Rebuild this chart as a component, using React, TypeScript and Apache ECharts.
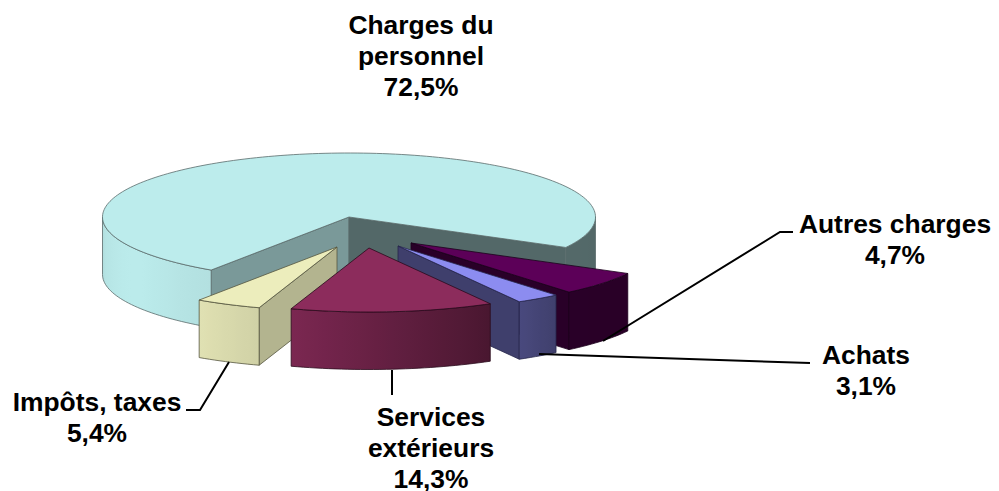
import React, { useEffect, useRef } from "react";
import * as echarts from "echarts";

// Slice names and printed percentages, in clockwise drawing order
const categories = ["Charges du\npersonnel", "Autres charges", "Achats", "Services\nextérieurs", "Impôts, taxes"];
const printedPercent = ["72,5", "4,7", "3,1", "14,3", "5,4"];
// Angular share of each slice as it appears in the picture (the perspective bends them), in %
const shares = [73.45, 6.03, 2.89, 13.3, 4.33];
const topColors = ["#bcecec", "#5c0058", "#8c8cf0", "#8c2c5c", "#ecedbc"];

// Layout
const CX = 349, CY = 217, RX = 246.5, RY = 64, DEPTH = 57.5;
const START_ANGLE = 124;
const EXPLODE = [[0, 0], [62, 26], [49, 29], [20, 31], [-12, 30]];
const PAINT_ORDER = [1, 2, 3, 5, 4];
const FACE_SHADE = [
  { start: 0.65, end: 0.44 },
  { start: 0.45, end: 0.45 },
  { start: 0.45, end: 0.45 },
  { start: 0.8, end: 0.8 },
  { start: 0.76, end: 0.76 },
];
const STROKES = ["#5b6b6b", "#1c001c", "#26264a", "#2a0a1c", "#55553f"];
const SHADE_KEYS = [[0, 0.44], [50, 0.45], [60, 0.52], [108, 0.88], [124, 0.95], [150, 1], [170, 0.97], [180, 0.92]];

function shadeAt(deg: number) {
  for (let i = 1; i < SHADE_KEYS.length; i++) {
    const [a0, s0] = SHADE_KEYS[i - 1];
    const [a1, s1] = SHADE_KEYS[i];
    if (deg <= a1) return s0 + ((s1 - s0) * (deg - a0)) / (a1 - a0);
  }
  return SHADE_KEYS[SHADE_KEYS.length - 1][1];
}
function mult(hex: string, k: number) {
  const n = parseInt(hex.slice(1), 16);
  const c = [(n >> 16) & 255, (n >> 8) & 255, n & 255].map((v) => Math.round(v * k));
  return `rgb(${c[0]},${c[1]},${c[2]})`;
}

const sweeps = shares.map((s) => (s * 360) / shares.reduce((a, b) => a + b, 0));

function renderSlice(params: any, api: any) {
  const i = params.dataIndex;
  const sweep = sweeps[i];
  const from = START_ANGLE + sweeps.slice(0, i).reduce((a, b) => a + b, 0);
  const to = from + sweep;
  const ax = CX + EXPLODE[i][0];
  const ay = CY + EXPLODE[i][1];
  const z2 = PAINT_ORDER[i];
  const pt = (deg: number, dy = 0) => {
    const r = (deg * Math.PI) / 180;
    return [ax + RX * Math.cos(r), ay + RY * Math.sin(r) + dy];
  };
  const arc = (a: number, b: number, dy = 0) => {
    const n = Math.max(2, Math.ceil(Math.abs(b - a) / 1.5));
    const out: number[][] = [];
    for (let k = 0; k <= n; k++) out.push(pt(a + ((b - a) * k) / n, dy));
    return out;
  };
  const base = topColors[i];
  const stroke = STROKES[i];
  const kids: any[] = [];
  const poly = (points: number[][], fill: any, order: number) =>
    kids.push({ type: "polygon", z2: z2 * 10 + order, shape: { points }, style: { fill, stroke, lineWidth: 0.8 } });

  // cut faces
  const face = (deg: number, isStart: boolean) => {
    const r = (deg * Math.PI) / 180;
    const visible = isStart ? -Math.cos(r) > 0 : Math.cos(r) > 0;
    if (!visible) return;
    const p = pt(deg);
    const q = pt(deg, DEPTH);
    const k = isStart ? FACE_SHADE[i].start : FACE_SHADE[i].end;
    poly([[ax, ay], p, q, [ax, ay + DEPTH]], mult(base, k), 0);
  };
  face(from, true);
  face(to, false);

  // outer wall, only the front half of the ellipse is visible
  const ranges: number[][] = [];
  for (const offs of [0, 360]) {
    const a = Math.max(from, offs);
    const b = Math.min(to, offs + 180);
    if (b > a) ranges.push([a, b]);
  }
  for (const [a, b] of ranges) {
    const top = arc(a, b);
    const bot = arc(b, a, DEPTH);
    const xs = top.map((p) => p[0]);
    const x0 = Math.min(...xs);
    const x1 = Math.max(...xs);
    const stops: { offset: number; color: string }[] = [];
    const n = 12;
    for (let k = 0; k <= n; k++) {
      const d = a + ((b - a) * k) / n;
      const x = pt(d)[0];
      stops.push({ offset: (x - x0) / (x1 - x0), color: mult(base, shadeAt(d % 360)) });
    }
    stops.sort((s, t) => s.offset - t.offset);
    poly(top.concat(bot), new echarts.graphic.LinearGradient(0, 0, 1, 0, stops), 1);
  }

  // top face
  poly([[ax, ay], ...arc(from, to)], base, 2);
  return { type: "group", children: kids };
}

const labelFont = "bold 26.4px 'Liberation Sans', Arial, sans-serif";
const labelPos = [[421, 56], [895, 239], [866, 370], [431, 448], [97, 417]];
const leaders = [
  [[793, 232], [780, 232], [603, 341]],
  [[810, 363], [539, 354]],
  [[392, 370], [392, 395]],
  [[186, 410], [200, 410], [229, 362]],
];

export default function App() {
  const ref = useRef<HTMLDivElement>(null);
  useEffect(() => {
    const chart = echarts.init(ref.current!, undefined, { renderer: "svg" });
    chart.setOption({
      animation: false,
      backgroundColor: "#ffffff",
      series: [
        {
          type: "custom",
          coordinateSystem: "none",
          silent: true,
          renderItem: renderSlice,
          data: shares.map((v, i) => ({ name: categories[i], value: [v] })),
        },
      ],
      graphic: [
        ...leaders.map((points) => ({
          type: "polyline",
          z: 50,
          shape: { points },
          style: { stroke: "#000", lineWidth: 2, fill: "none" },
        })),
        ...categories.map((c, i) => ({
          type: "text",
          z: 60,
          x: labelPos[i][0],
          y: labelPos[i][1],
          style: {
            text: `${c}\n${printedPercent[i]}%`,
            font: labelFont,
            fill: "#000",
            align: "center",
            verticalAlign: "middle",
            lineHeight: 31,
          },
        })),
      ],
    });
    return () => chart.dispose();
  }, []);
  return <div ref={ref} style={{ position: "fixed", left: 0, top: 0, width: 999, height: 491 }} />;
}
